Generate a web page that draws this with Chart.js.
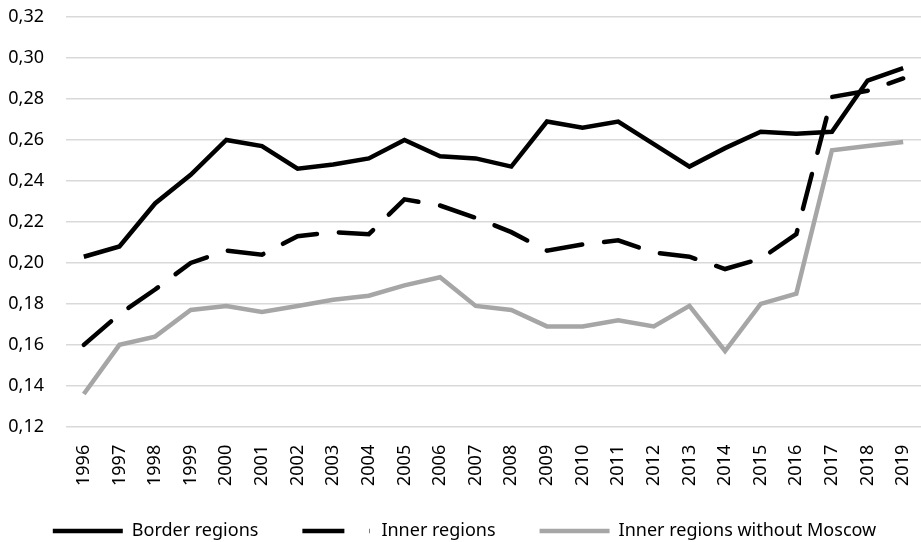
<!DOCTYPE html>
<html>
<head>
<meta charset="utf-8">
<script src="https://cdn.jsdelivr.net/npm/chart.js@4/dist/chart.umd.min.js"></script>
<style>
  html, body { margin: 0; padding: 0; background: #fff; }
  #wrap { width: 921px; height: 542px; }
</style>
</head>
<body>
<div id="wrap"><canvas id="giniChart"></canvas></div>
<script>
var years = ['1996','1997','1998','1999','2000','2001','2002','2003','2004','2005','2006','2007',
             '2008','2009','2010','2011','2012','2013','2014','2015','2016','2017','2018','2019'];

var borderRegions = [0.203, 0.208, 0.229, 0.243, 0.260, 0.257, 0.246, 0.248, 0.251, 0.260, 0.252, 0.251,
                     0.247, 0.269, 0.266, 0.269, 0.258, 0.247, 0.256, 0.264, 0.263, 0.264, 0.289, 0.295];

var innerRegions = [0.160, 0.175, 0.187, 0.200, 0.206, 0.204, 0.213, 0.215, 0.214, 0.231, 0.228, 0.222,
                    0.215, 0.206, 0.209, 0.211, 0.205, 0.203, 0.197, 0.202, 0.214, 0.281, 0.284, 0.290];

var innerNoMoscow = [0.136, 0.160, 0.164, 0.177, 0.179, 0.176, 0.179, 0.182, 0.184, 0.189, 0.193, 0.179,
                     0.177, 0.169, 0.169, 0.172, 0.169, 0.179, 0.157, 0.180, 0.185, 0.255, 0.257, 0.259];

var seriesNames = ['Border regions', 'Inner regions', 'Inner regions without Moscow'];

var fontFamily = "'Noto Sans', 'Open Sans', sans-serif";

// let the plot area run to the padding we set, no extra room for edge labels
function noEdgePadding(scale) {
  scale.paddingTop = 0;
  scale.paddingBottom = 0;
  scale.paddingLeft = 0;
  scale.paddingRight = 0;
}

var ctx = document.getElementById('giniChart');
var giniChart = new Chart(ctx, {
  type: 'line',
  data: {
    labels: years,
    datasets: [
      {
        label: seriesNames[0],
        data: borderRegions,
        borderColor: '#000000',
        backgroundColor: '#000000',
        borderWidth: 4.5,
        pointRadius: 0,
        tension: 0
      },
      {
        label: seriesNames[1],
        data: innerRegions,
        borderColor: '#000000',
        backgroundColor: '#000000',
        borderWidth: 4.5,
        borderDash: [36, 22],
        borderCapStyle: 'round',
        pointRadius: 0,
        tension: 0
      },
      {
        label: seriesNames[2],
        data: innerNoMoscow,
        borderColor: '#a6a6a6',
        backgroundColor: '#a6a6a6',
        borderWidth: 4.5,
        pointRadius: 0,
        tension: 0
      }
    ]
  },
  options: {
    responsive: true,
    maintainAspectRatio: false,
    animation: false,
    layout: { padding: { top: 17, right: 0, left: 8, bottom: -8 } },
    scales: {
      x: {
        offset: true,
        grid: { display: false },
        border: { display: false },
        afterFit: noEdgePadding,
        ticks: {
          color: '#000',
          minRotation: 90,
          maxRotation: 90,
          padding: 10,
          font: { family: fontFamily, size: 18 }
        }
      },
      y: {
        min: 0.12,
        max: 0.32,
        border: { display: false },
        grid: { color: '#d9d9d9', lineWidth: 1.5, drawTicks: false },
        afterFit: function (scale) {
          noEdgePadding(scale);
          scale.width = 58; // label + padding, grid starts at x=66
        },
        ticks: {
          stepSize: 0.02,
          color: '#000',
          padding: 22,
          font: { family: fontFamily, size: 18 },
          callback: function (v) { return v.toFixed(2).replace('.', ','); }
        }
      }
    },
    plugins: {
      legend: {
        position: 'bottom',
        labels: {
          usePointStyle: true,
          pointStyle: 'line',
          pointStyleWidth: 70,
          padding: 26,
          color: '#000',
          font: { family: fontFamily, size: 18 },
          generateLabels: function (chart) {
            var items = Chart.defaults.plugins.legend.labels.generateLabels(chart);
            // dash-dot sample for the inner regions, like the original
            items[1].lineDash = [42, 25, 0.5, 10];
            // a bit more room between the legend entries
            items[0].text += '\u2003';
            items[1].text += '\u2003';
            return items;
          }
        }
      },
      tooltip: { enabled: false }
    }
  }
});
</script>
</body>
</html>
